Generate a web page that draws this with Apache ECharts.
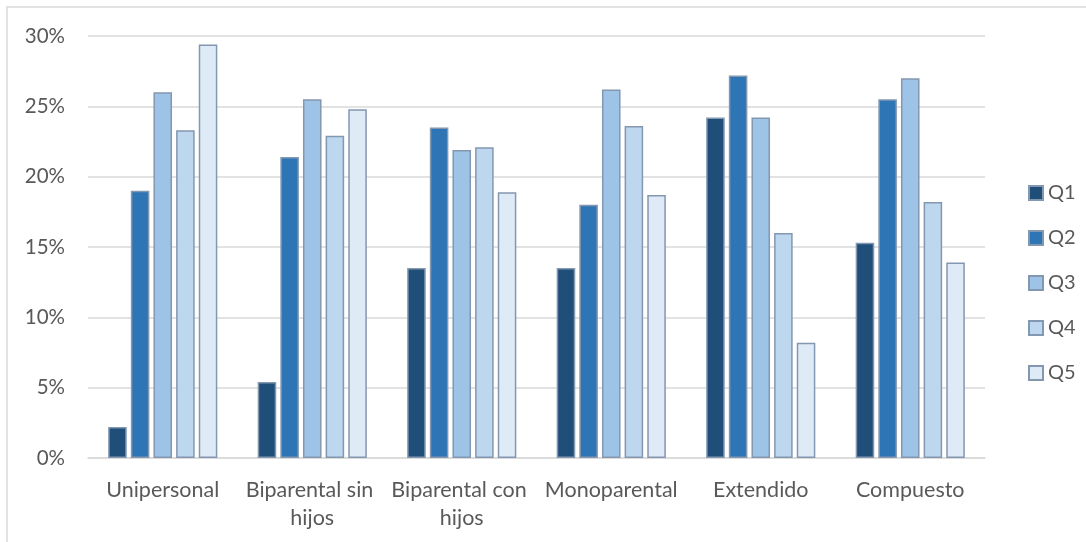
<!DOCTYPE html>
<html>
<head>
<meta charset="utf-8">
<script src="https://cdn.jsdelivr.net/npm/echarts@6/dist/echarts.min.js"></script>
<style>
  html, body { margin: 0; padding: 0; background: #ffffff; }
  #chart { width: 1086px; height: 542px; }
</style>
</head>
<body>
<div id="chart"></div>
<script>
// Household types and income quintile shares (%)
const categories = ['Unipersonal', 'Biparental sin hijos', 'Biparental con hijos', 'Monoparental', 'Extendido', 'Compuesto'];
const seriesNames = ['Q1', 'Q2', 'Q3', 'Q4', 'Q5'];
const q1 = [2.2, 5.4, 13.5, 13.5, 24.2, 15.3];
const q2 = [19.0, 21.4, 23.5, 18.0, 27.2, 25.5];
const q3 = [26.0, 25.5, 21.9, 26.2, 24.2, 27.0];
const q4 = [23.3, 22.9, 22.1, 23.6, 16.0, 18.2];
const q5 = [29.4, 24.8, 18.9, 18.7, 8.2, 13.9];
const yTicks = [0, 5, 10, 15, 20, 25, 30];

const palette = ['#1F4E79', '#2E75B6', '#9DC3E6', '#BDD7EE', '#DEEBF7'];
const values = [q1, q2, q3, q4, q5];
const font = 'Lato, "Open Sans", sans-serif';
const textColor = '#595959';

const chart = echarts.init(document.getElementById('chart'), null, { renderer: 'canvas' });

chart.setOption({
  animation: false,
  backgroundColor: '#ffffff',
  graphic: [{
    type: 'rect',
    silent: true,
    shape: { x: 7, y: 7, width: 1200, height: 700 },
    style: { fill: 'none', stroke: '#D9D9D9', lineWidth: 1.5 }
  }],
  grid: { left: 88, right: 101, top: 36, bottom: 84, containLabel: false },
  legend: {
    orient: 'vertical',
    left: 1023,
    top: 178,
    itemWidth: 14,
    itemHeight: 14,
    itemGap: 25,
    icon: 'rect',
    textStyle: { fontFamily: font, fontSize: 20, color: textColor },
    data: seriesNames
  },
  xAxis: {
    type: 'category',
    data: categories,
    axisLine: { show: true, lineStyle: { color: '#D9D9D9', width: 1.5 } },
    axisTick: { show: false },
    axisLabel: {
      fontFamily: font, fontSize: 21.5, color: textColor,
      margin: 18, lineHeight: 28, interval: 0,
      width: 150, overflow: 'break'
    },
    splitLine: { show: false }
  },
  yAxis: {
    type: 'value',
    min: yTicks[0],
    max: yTicks[yTicks.length - 1],
    interval: yTicks[1] - yTicks[0],
    axisLine: { show: false },
    axisTick: { show: false },
    axisLabel: {
      fontFamily: font, fontSize: 20.5, color: textColor, margin: 23,
      formatter: v => v + '%'
    },
    splitLine: { lineStyle: { color: '#D9D9D9', width: 1.5 } }
  },
  series: seriesNames.map((name, i) => ({
    name,
    type: 'bar',
    data: values[i],
    barGap: '22%',
    barCategoryGap: '27%',
    itemStyle: { color: palette[i], borderColor: '#8497B0', borderWidth: 1.5 }
  }))
});
</script>
</body>
</html>
